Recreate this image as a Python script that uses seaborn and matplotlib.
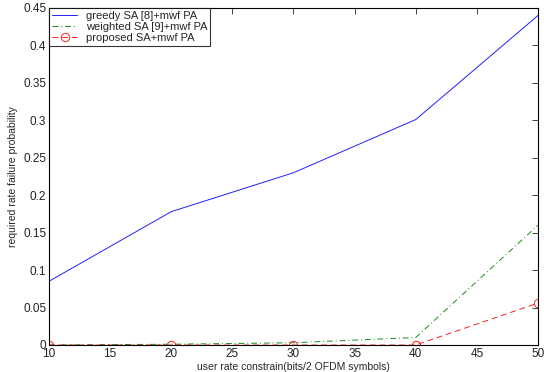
import pandas as pd
import numpy as np
import matplotlib
matplotlib.use('Agg')
import matplotlib.pyplot as plt
import seaborn as sns

# data
rate = [10, 20, 30, 40, 50]
greedy = [0.085, 0.178, 0.230, 0.301, 0.440]
weighted = [0.0, 0.001, 0.003, 0.010, 0.160]
proposed = [0.0, 0.0, 0.0, 0.0, 0.056]

sns.set_style('white')
plt.rcParams['font.family'] = ['Liberation Sans', 'DejaVu Sans']

df = pd.DataFrame({'rate': rate, 'greedy': greedy,
                   'weighted': weighted, 'proposed': proposed})

fig = plt.figure(figsize=(5.44, 3.72), dpi=100)
ax = fig.add_axes([0.090, 0.0726, 0.899, 0.906])

sns.lineplot(x='rate', y='greedy', data=df, ax=ax, color='#2020ff',
             lw=0.7, label='greedy SA [8]+mwf PA')
sns.lineplot(x='rate', y='weighted', data=df, ax=ax, color='#1a8a1a',
             lw=0.7, linestyle=(0, (6, 3, 1, 3)), label='weighted SA [9]+mwf PA')
sns.lineplot(x='rate', y='proposed', data=df, ax=ax, color='#ff2020',
             lw=0.7, linestyle=(0, (6, 4)), marker='o', markersize=6,
             markerfacecolor='none', markeredgecolor='#ff2020',
             markeredgewidth=0.7, label='proposed SA+mwf PA')

ax.set_xlim(10, 50)
ax.set_ylim(0, 0.45)
ax.set_xticks(np.arange(10, 51, 5))
ax.set_yticks(np.arange(0, 0.451, 0.05))
ax.set_yticklabels(['0', '0.05', '0.1', '0.15', '0.2', '0.25', '0.3',
                    '0.35', '0.4', '0.45'])
ax.tick_params(direction='in', top=True, right=True, labelsize=8.5,
               length=4, width=0.6, colors='#222222', pad=2)
for s in ax.spines.values():
    s.set_linewidth(0.8)
    s.set_color('black')

ax.set_xlabel('user rate constrain(bits/2 OFDM symbols)', fontsize=7.5)
ax.set_ylabel('required rate failure probability', fontsize=7.5)
ax.xaxis.set_label_coords(0.5, -0.05)

leg = ax.legend(loc='upper left', fontsize=8, frameon=True, fancybox=False,
                borderpad=0.25, labelspacing=0.1, handlelength=2.3,
                borderaxespad=0.0)
leg.get_frame().set_edgecolor('black')
leg.get_frame().set_linewidth(0.8)

fig.savefig('out.png', dpi=100)
